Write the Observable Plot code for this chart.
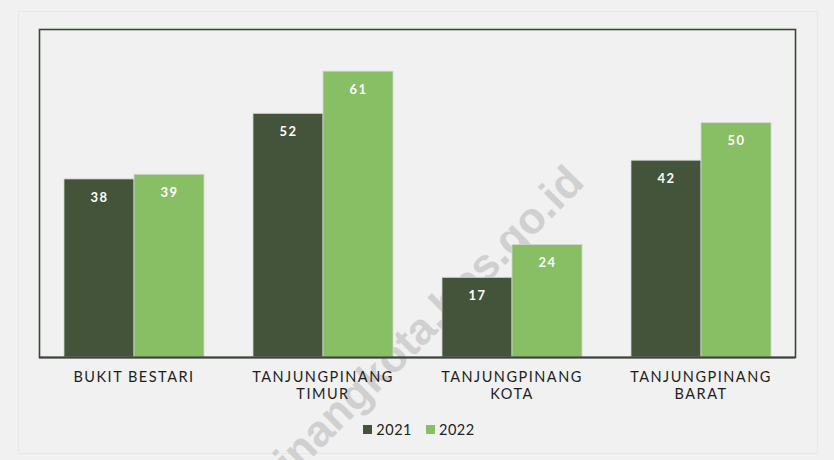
<!DOCTYPE html>
<html>
<head>
<meta charset="utf-8">
<script src="https://cdn.jsdelivr.net/npm/d3@7"></script>
<script src="https://cdn.jsdelivr.net/npm/@observablehq/plot@0.6"></script>
<style>
  html, body { margin: 0; padding: 0; background: #f1f1f1; }
  body { width: 834px; height: 460px; position: relative; overflow: hidden; font-family: Lato, "Open Sans", sans-serif; }
  #outer { position: absolute; left: 18px; top: 11px; width: 800px; height: 443px; border: 1px solid #e9e9e3; box-sizing: border-box; }
  #wm { position: absolute; left: 0; top: 0; z-index: 0; }
  #chart { position: absolute; left: 0; top: 0; z-index: 1; }
  #chart svg { background: transparent; }
  #legend { position: absolute; left: 0; width: 834px; top: 421px; z-index: 2; display: flex; justify-content: center; gap: 14px; font-size: 14.5px; color: #222; padding-left: 4px; box-sizing: border-box; letter-spacing: 0.5px; }
  #legend .item { display: flex; align-items: center; gap: 4px; }
  #legend .sw { width: 9px; height: 9px; display: inline-block; }
</style>
</head>
<body>
<div id="outer"></div>
<svg id="wm" width="834" height="460"></svg>
<div id="chart"></div>
<div id="legend"></div>
<script>
const districts = ["BUKIT BESTARI", "TANJUNGPINANG TIMUR", "TANJUNGPINANG KOTA", "TANJUNGPINANG BARAT"];
const tickLabels = ["BUKIT BESTARI", "TANJUNGPINANG\nTIMUR", "TANJUNGPINANG\nKOTA", "TANJUNGPINANG\nBARAT"];
const years = ["2021", "2022"];
const values2021 = [38, 52, 17, 42];
const values2022 = [39, 61, 24, 50];
const colors = ["#44543a", "#88be64"];
const watermark = "tanjungpinangkota.bps.go.id";

const series = [values2021, values2022];
const data = districts.flatMap((d, i) => years.map((y, j) => ({district: d, year: y, value: series[j][i]})));
const fmtTick = d => tickLabels[districts.indexOf(d)];

const chart = Plot.plot({
  width: 834,
  height: 410,
  marginLeft: 38,
  marginRight: 38,
  marginTop: 29,
  marginBottom: 53,
  style: {background: "transparent", fontFamily: "Lato, 'Open Sans', sans-serif", color: "#222"},
  fx: {domain: districts, padding: 0, label: null, tickFormat: fmtTick},
  x: {domain: years, paddingInner: 0, paddingOuter: 0.34, axis: null},
  y: {domain: [0, 70], axis: null},
  color: {domain: years, range: colors},
  marks: [
    Plot.barY(data, {fx: "district", x: "year", y: "value", fill: "year", stroke: "#d4d4d4", strokeWidth: 0.8}),
    Plot.text(data, {fx: "district", x: "year", y: "value", text: d => String(d.value), dy: 18, fill: "white", fontWeight: "bold", fontSize: 13}),
    Plot.ruleY([0], {stroke: "#4a4a4a", strokeWidth: 2}),
    Plot.frame({facet: "super", stroke: "#3b4634", strokeWidth: 1.6}),
    Plot.axisFx({anchor: "bottom", tickSize: 0, tickPadding: 13, fontSize: 14.5, lineHeight: 1.15, label: null, fill: "#1e1e1e", tickFormat: fmtTick})
  ]
});
document.getElementById("chart").appendChild(chart);
d3.select(chart).selectAll('g[aria-label="fx-axis tick label"] text').style("letter-spacing", "1.5px");
d3.select(chart).selectAll('g[aria-label="text"] text').style("letter-spacing", "1.5px");

// legend
const legend = document.getElementById("legend");
years.forEach((y, j) => {
  const item = document.createElement("span");
  item.className = "item";
  const sw = document.createElement("span");
  sw.className = "sw";
  sw.style.background = colors[j];
  item.appendChild(sw);
  item.appendChild(document.createTextNode(y));
  legend.appendChild(item);
});

// watermark
const wm = d3.select("#wm");
wm.append("text")
  .attr("transform", "translate(586,184) rotate(-45)")
  .attr("text-anchor", "end")
  .attr("font-family", "'Liberation Sans', Arial, sans-serif")
  .attr("font-weight", "bold")
  .attr("font-size", 44)
  .attr("fill", "#d0d0d0")
  .text(watermark);
</script>
</body>
</html>
